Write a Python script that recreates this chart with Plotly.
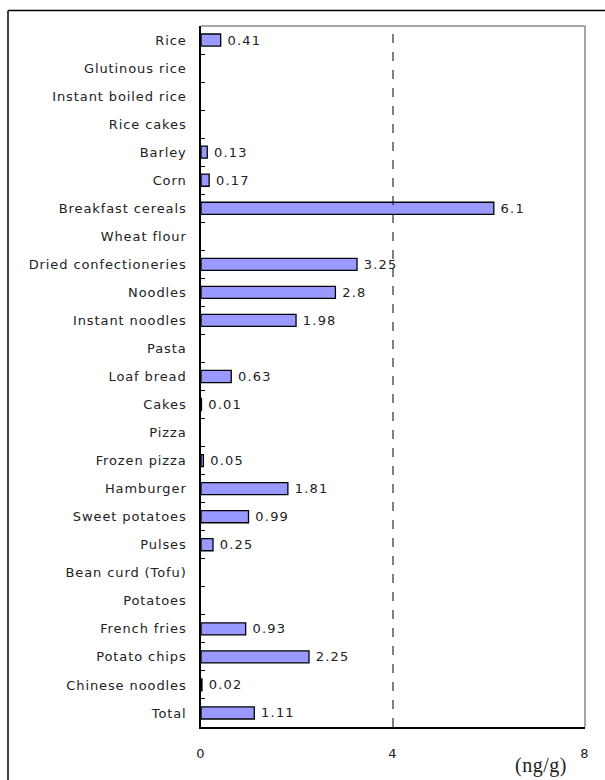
import plotly.graph_objects as go

# Acrylamide content by food item (ng/g); None = not detected / no bar
foods = [
    "Rice", "Glutinous rice", "Instant boiled rice", "Rice cakes", "Barley",
    "Corn", "Breakfast cereals", "Wheat flour", "Dried confectioneries",
    "Noodles", "Instant noodles", "Pasta", "Loaf bread", "Cakes", "Pizza",
    "Frozen pizza", "Hamburger", "Sweet potatoes", "Pulses",
    "Bean curd (Tofu)", "Potatoes", "French fries", "Potato chips",
    "Chinese noodles", "Total",
]
values = [
    0.41, None, None, None, 0.13,
    0.17, 6.1, None, 3.25,
    2.8, 1.98, None, 0.63, 0.01, None,
    0.05, 1.81, 0.99, 0.25,
    None, None, 0.93, 2.25,
    0.02, 1.11,
]
x_ticks = [0, 4, 8]
unit_label = "(ng/g)"


def spaced(s, px=1.0):
    """Wrap text in a span with a little extra letter spacing."""
    return f'<span style="letter-spacing:{px}px">{s}</span>'


bar_labels = ["" if v is None else spaced("\u2009" + f"{v:g}", 1.2) for v in values]

label_font = dict(family="DejaVu Sans", size=13, color="#222")

fig = go.Figure(
    go.Bar(
        x=values,
        y=foods,
        orientation="h",
        marker=dict(color="#9999FF", line=dict(color="black", width=1.3)),
        width=0.43,
        text=bar_labels,
        textposition="outside",
        constraintext="none",
        textfont=label_font,
        cliponaxis=False,
        hoverinfo="skip",
    )
)

fig.update_layout(
    width=605,
    height=780,
    margin=dict(l=201, r=20, t=26, b=53),
    paper_bgcolor="white",
    plot_bgcolor="white",
    showlegend=False,
    xaxis=dict(
        range=[0, 8],
        tickvals=x_ticks,
        ticktext=[spaced(str(t), 1.0) for t in x_ticks],
        showgrid=False,
        zeroline=False,
        showline=True,
        linecolor="black",
        linewidth=1.5,
        ticks="",
        ticklabelstandoff=14,
        tickfont=label_font,
        fixedrange=True,
    ),
    yaxis=dict(
        autorange="reversed",
        tickmode="array",
        tickvals=foods,
        ticktext=[spaced(f, 0.9) for f in foods],
        showgrid=False,
        zeroline=False,
        showline=True,
        linecolor="black",
        linewidth=1.5,
        ticks="inside",
        ticklen=4,
        tickwidth=1,
        tickcolor="black",
        tickson="boundaries",
        ticklabelstandoff=10,
        tickfont=label_font,
        fixedrange=True,
    ),
    shapes=[
        # reference line at 4 ng/g
        dict(type="line", xref="x", yref="paper", x0=4, x1=4, y0=0, y1=1,
             line=dict(color="black", width=1, dash="dash")),
        # top and right edges of the plot area
        dict(type="line", xref="paper", yref="paper", x0=0, x1=1, y0=1, y1=1,
             line=dict(color="#888888", width=1.5)),
        dict(type="line", xref="paper", yref="paper", x0=1, x1=1, y0=0, y1=1,
             line=dict(color="#888888", width=1.5)),
        # outer frame around the figure (left and top edges)
        dict(type="line", xref="paper", yref="paper",
             x0=-0.5026, x1=-0.5026, y0=-0.2, y1=1.0221,
             line=dict(color="black", width=1.5)),
        dict(type="line", xref="paper", yref="paper",
             x0=-0.5026, x1=1.06, y0=1.0221, y1=1.0221,
             line=dict(color="black", width=1.5)),
    ],
    annotations=[
        dict(text=spaced(unit_label, 0.5), xref="paper", yref="paper",
             x=0.958, y=-0.055, xanchor="right", yanchor="middle",
             showarrow=False,
             font=dict(family="Liberation Serif", size=20, color="#222")),
    ],
)

fig.write_html("out.html")
